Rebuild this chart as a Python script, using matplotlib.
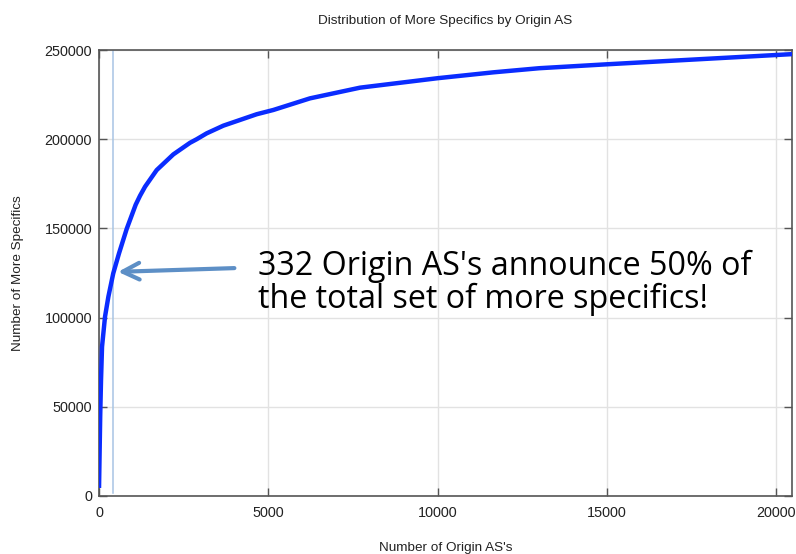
import matplotlib.pyplot as plt

# cumulative more specifics vs. number of origin AS's
origin_as = [0, 20, 35, 59, 89, 177, 276, 420, 590, 817, 1083, 1211, 1360,
             1703, 2195, 2688, 2885, 3180, 3672, 4165, 4657, 5150, 6230,
             7710, 10000, 11650, 13000, 15000, 20470]
more_specifics = [4500, 27600, 45000, 65000, 83700, 100500, 111700, 124800,
                  136000, 149700, 163300, 168300, 173400, 182700, 191500,
                  198000, 200000, 203300, 207600, 210800, 214000, 216400,
                  222900, 228900, 234200, 237500, 239800, 242000, 247700]

half_point = 420
note = "332 Origin AS's announce 50% of\nthe total set of more specifics!"

xticks = [0, 5000, 10000, 15000, 20000]
yticks = [0, 50000, 100000, 150000, 200000, 250000]

plt.rcParams['font.family'] = ['Liberation Sans', 'DejaVu Sans']

fig = plt.figure(figsize=(7.96, 5.54), dpi=100)
ax = fig.add_axes([0.1244, 0.1047, 0.8706, 0.805])

ax.plot(origin_as, more_specifics, color='#0a2cff', lw=3.2,
        solid_capstyle='butt', solid_joinstyle='round', zorder=3)
ax.axvline(half_point, color='#a8c4e4', lw=1.1, ymin=0.006, ymax=1, zorder=2)

ax.set_xlim(0, 20470)
ax.set_ylim(0, 250000)
ax.set_xticks(xticks)
ax.set_yticks(yticks)
ax.grid(True, color='#e2e2e2', lw=1)
ax.set_axisbelow(True)

ax.tick_params(direction='in', length=6, width=1, color='#555555',
               top=True, right=True, labelsize=10.4, labelcolor='#222222')
ax.tick_params(axis='x', pad=7)
ax.tick_params(axis='y', pad=5)
for s in ax.spines.values():
    s.set_color('#555555')
    s.set_linewidth(1.2)

ax.set_title('Distribution of More Specifics by Origin AS', fontsize=9.7,
             color='#222222', pad=19)
ax.set_xlabel("Number of Origin AS's", fontsize=9.7, color='#222222', labelpad=16)
ax.set_ylabel('Number of More Specifics', fontsize=9.7, color='#222222', labelpad=15)

ax.annotate('', xy=(480, 125600), xytext=(4080, 127800),
            arrowprops=dict(arrowstyle='->,head_length=1.2,head_width=0.6',
                            color='#5d8fc6', lw=3), zorder=4)
ax.text(4700, 119500, note, fontsize=23.2, color='black', va='center',
        ha='left', linespacing=1.02, family=['Open Sans', 'DejaVu Sans'])

fig.savefig('out.png', dpi=100)
